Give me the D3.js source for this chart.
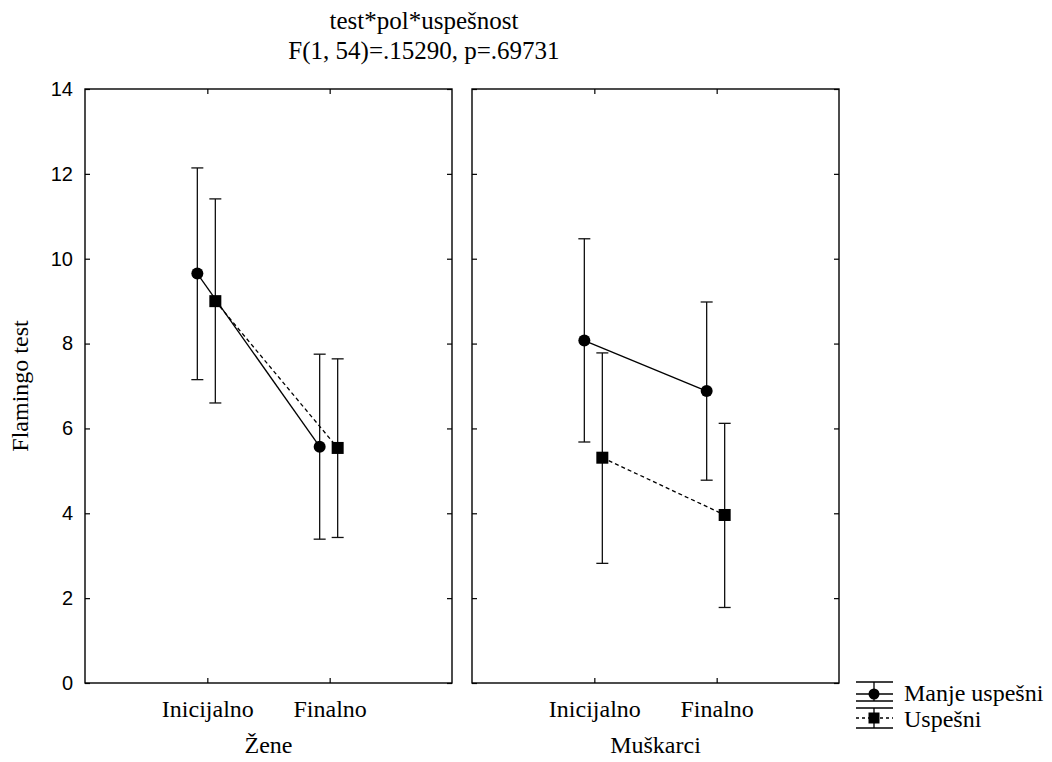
<!DOCTYPE html>
<html>
<head>
<meta charset="utf-8">
<script src="https://cdn.jsdelivr.net/npm/d3@7"></script>
<style>
  body { margin: 0; background: #fff; }
  .tick text { font-family: "Liberation Sans", Arial, sans-serif; font-size: 20px; fill: #000; }
</style>
</head>
<body>
<div id="chart"></div>
<script>
const tests = ["Inicijalno", "Finalno"];
const groups = ["Žene", "Muškarci"];
const seriesNames = ["Manje uspešni", "Uspešni"];
const yTicks = [0, 2, 4, 6, 8, 10, 12, 14];

// means and error bar limits, one row per panel (Žene, Muškarci), columns = tests
const manjeMean = [[9.65, 5.57], [8.07, 6.88]];
const manjeLow  = [[7.15, 3.39], [5.68, 4.78]];
const manjeHigh = [[12.14, 7.75], [10.47, 8.98]];
const uspesniMean = [[9.0, 5.54], [5.31, 3.96]];
const uspesniLow  = [[6.6, 3.43], [2.82, 1.78]];
const uspesniHigh = [[11.41, 7.64], [7.78, 6.12]];

const W = 1052, H = 762;
const yTop = 89, yBottom = 683;
const panelW = 367, panelLeft = [85, 472];
const serifFont = "'Liberation Serif', 'Times New Roman', serif";

const svg = d3.select("#chart").append("svg")
  .attr("width", W).attr("height", H);

const y = d3.scaleLinear().domain([0, 14]).range([yBottom, yTop]);

// title
const title = svg.append("text")
  .attr("text-anchor", "middle")
  .style("font-family", serifFont)
  .style("font-size", "25px");
title.append("tspan").attr("x", 424).attr("y", 29).text("test*pol*uspešnost");
title.append("tspan").attr("x", 424).attr("y", 59).text("F(1, 54)=.15290, p=.69731");

// y label
svg.append("text")
  .attr("transform", `translate(28,386) rotate(-90)`)
  .attr("text-anchor", "middle")
  .style("font-family", serifFont)
  .style("font-size", "24px")
  .text("Flamingo test");

const series = [
  { name: seriesNames[0], mean: manjeMean, low: manjeLow, high: manjeHigh, dx: -10, shape: "circle", dash: null },
  { name: seriesNames[1], mean: uspesniMean, low: uspesniLow, high: uspesniHigh, dx: 8, shape: "square", dash: "4,3" }
];

groups.forEach((g, gi) => {
  const x = d3.scalePoint().domain(tests).range([0, panelW]).padding(1);
  const p = svg.append("g").attr("transform", `translate(${panelLeft[gi]},0)`);

  // frame with inward ticks
  p.append("g")
    .call(d3.axisLeft(y).tickValues(yTicks).tickSizeInner(-5).tickSizeOuter(0)
      .tickPadding(12).tickFormat(gi === 0 ? d3.format("d") : () => ""))
    .call(a => a.select(".domain").remove());
  p.append("g").attr("transform", `translate(${panelW},0)`)
    .call(d3.axisRight(y).tickValues(yTicks).tickSizeInner(-5).tickSizeOuter(0).tickFormat(() => ""))
    .call(a => a.select(".domain").remove());
  p.append("g").attr("transform", `translate(0,${yBottom})`)
    .call(d3.axisBottom(x).tickSizeInner(-5).tickSizeOuter(0).tickPadding(17))
    .call(a => a.select(".domain").remove())
    .call(a => a.selectAll(".tick text")
      .style("font-family", serifFont).style("font-size", "24px"));
  p.append("g").attr("transform", `translate(0,${yTop})`)
    .call(d3.axisTop(x).tickSizeInner(-5).tickSizeOuter(0).tickFormat(() => ""))
    .call(a => a.select(".domain").remove());
  p.selectAll(".tick line").attr("stroke", "#000").attr("stroke-width", 1.2);
  p.append("rect").attr("x", 0).attr("y", yTop).attr("width", panelW).attr("height", yBottom - yTop)
    .attr("fill", "none").attr("stroke", "#000").attr("stroke-width", 1.4);

  // group label
  p.append("text")
    .attr("x", panelW / 2).attr("y", 753).attr("text-anchor", "middle")
    .style("font-family", serifFont)
    .style("font-size", "24px").text(g);

  series.forEach(s => {
    const pts = tests.map((t, ti) => ({
      x: x(t) + s.dx, m: s.mean[gi][ti], lo: s.low[gi][ti], hi: s.high[gi][ti]
    }));
    // error bars
    const eb = p.append("g").attr("stroke", "#111").attr("stroke-width", 1.3);
    pts.forEach(d => {
      eb.append("line").attr("x1", d.x).attr("x2", d.x).attr("y1", y(d.lo)).attr("y2", y(d.hi));
      eb.append("line").attr("x1", d.x - 6).attr("x2", d.x + 6).attr("y1", y(d.lo)).attr("y2", y(d.lo));
      eb.append("line").attr("x1", d.x - 6).attr("x2", d.x + 6).attr("y1", y(d.hi)).attr("y2", y(d.hi));
    });
    // connecting line
    p.append("path").datum(pts)
      .attr("d", d3.line().x(d => d.x).y(d => y(d.m)))
      .attr("fill", "none").attr("stroke", "#000").attr("stroke-width", 1.3)
      .attr("stroke-dasharray", s.dash);
    // markers
    pts.forEach(d => {
      if (s.shape === "circle") {
        p.append("circle").attr("cx", d.x).attr("cy", y(d.m)).attr("r", 6).attr("fill", "#000");
      } else {
        p.append("rect").attr("x", d.x - 6).attr("y", y(d.m) - 6).attr("width", 12).attr("height", 12).attr("fill", "#000");
      }
    });
  });
});

// legend
const leg = svg.append("g");
const legRows = [
  { name: seriesNames[0], cy: 694, capT: 682, capB: 701, shape: "circle", dash: null, ty: 701 },
  { name: seriesNames[1], cy: 718, capT: 708, capB: 728, shape: "square", dash: "3,3", ty: 727 }
];
legRows.forEach(r => {
  const g = leg.append("g").attr("stroke", "#000").attr("stroke-width", 1.3);
  g.append("line").attr("x1", 856).attr("x2", 893).attr("y1", r.capT).attr("y2", r.capT);
  g.append("line").attr("x1", 856).attr("x2", 893).attr("y1", r.capB).attr("y2", r.capB);
  g.append("line").attr("x1", 856).attr("x2", 893).attr("y1", r.cy).attr("y2", r.cy).attr("stroke-dasharray", r.dash);
  g.append("line").attr("x1", 874).attr("x2", 874).attr("y1", r.capT).attr("y2", r.capB);
  if (r.shape === "circle") {
    leg.append("circle").attr("cx", 874).attr("cy", r.cy).attr("r", 5.5).attr("fill", "#000");
  } else {
    leg.append("rect").attr("x", 868.5).attr("y", r.cy - 5.5).attr("width", 11).attr("height", 11).attr("fill", "#000");
  }
  leg.append("text").attr("x", 904).attr("y", r.ty)
    .style("font-family", serifFont)
    .style("font-size", "24px").text(r.name);
});
</script>
</body>
</html>
